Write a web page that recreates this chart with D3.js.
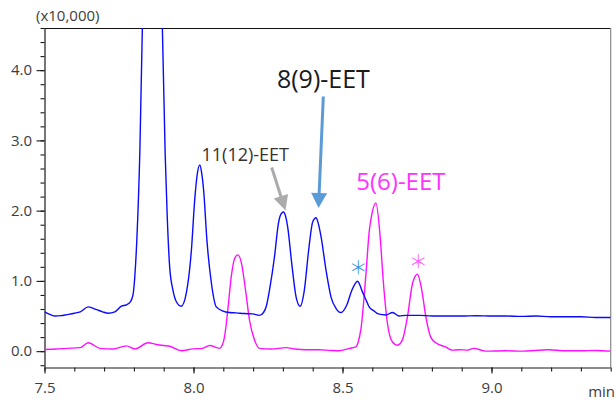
<!DOCTYPE html>
<html>
<head>
<meta charset="utf-8">
<script src="https://cdn.jsdelivr.net/npm/d3@7"></script>
<style>
  html, body { margin: 0; padding: 0; background: #fff; }
  svg { display: block; }
  text { font-family: "Open Sans", "Noto Sans", sans-serif; }
</style>
</head>
<body>
<svg id="chart" width="616" height="400"></svg>
<script>
// ---- data (retention time in min, intensity in x10,000) ----
const blueTime = [7.500,7.520,7.535,7.555,7.575,7.600,7.620,7.647,7.675,7.695,7.714,7.736,7.758,7.775,7.788,7.797,7.803,7.810,7.820,7.830,7.840,7.850,7.862,7.875,7.885,7.895,7.905,7.912,7.920,7.931,7.943,7.959,7.976,7.993,8.004,8.012,8.021,8.028,8.034,8.045,8.060,8.0765,8.099,8.120,8.143,8.170,8.199,8.2215,8.235,8.245,8.255,8.2717,8.285,8.2935,8.302,8.309,8.316,8.3296,8.3443,8.3577,8.372,8.3865,8.400,8.4113,8.418,8.428,8.4448,8.4615,8.478,8.495,8.5137,8.5318,8.5506,8.5673,8.584,8.5897,8.6065,8.620,8.6456,8.668,8.690,8.7126,8.760,8.800,8.850,8.900,8.950,9.000,9.050,9.100,9.150,9.200,9.250,9.300,9.350,9.400];
const blueSignal = [0.56,0.52,0.50,0.505,0.52,0.54,0.56,0.63,0.59,0.56,0.54,0.56,0.64,0.66,0.70,0.80,1.06,1.60,2.85,4.95,7.70,10.2,11.6,10.0,7.40,4.70,2.80,1.90,1.20,0.87,0.70,0.64,0.83,1.44,2.15,2.50,2.65,2.52,2.29,1.58,0.97,0.63,0.57,0.55,0.545,0.535,0.53,0.51,0.55,0.65,0.87,1.34,1.82,1.95,1.98,1.92,1.77,1.25,0.77,0.64,0.87,1.44,1.84,1.90,1.83,1.63,1.15,0.77,0.61,0.55,0.65,0.87,0.996,0.84,0.68,0.63,0.57,0.53,0.515,0.55,0.50,0.51,0.51,0.50,0.50,0.50,0.505,0.50,0.50,0.495,0.50,0.49,0.49,0.49,0.48,0.48];

const magentaTime = [7.500,7.540,7.574,7.619,7.647,7.686,7.730,7.775,7.803,7.8475,7.8756,7.900,7.920,7.959,7.998,8.030,8.054,8.0875,8.096,8.104,8.115,8.1267,8.138,8.149,8.160,8.1746,8.188,8.2047,8.2215,8.260,8.311,8.340,8.378,8.420,8.460,8.489,8.523,8.545,8.552,8.562,8.5787,8.590,8.5985,8.612,8.6256,8.6366,8.651,8.6677,8.6845,8.701,8.718,8.7347,8.7514,8.766,8.7796,8.796,8.813,8.846,8.8686,8.891,8.920,8.9412,8.980,9.050,9.100,9.190,9.250,9.300,9.350,9.400];
const magentaSignal = [0.024,0.03,0.04,0.05,0.12,0.04,0.03,0.075,0.03,0.12,0.095,0.08,0.07,0.005,0.033,0.04,0.08,0.04,0.08,0.20,0.58,1.06,1.32,1.37,1.27,0.87,0.44,0.16,0.04,0.03,0.05,0.03,0.02,0.02,0.01,0.005,0.04,0.06,0.12,0.32,1.10,1.72,1.95,2.11,1.67,1.01,0.39,0.13,0.085,0.16,0.49,0.96,1.095,0.87,0.49,0.20,0.12,0.06,0.014,0.02,0.015,0.04,0.0,0.005,0.0,0.02,0.005,0.005,0.01,0.0];

const xMajorTicks = [7.5, 8.0, 8.5, 9.0];
const yMajorTicks = [0.0, 1.0, 2.0, 3.0, 4.0];
const yUnitLabel = "(x10,000)";
const xUnitLabel = "min";
const peakLabels = ["8(9)-EET", "11(12)-EET", "5(6)-EET"];
const markLabels = ["＊", "＊"];

// ---- layout ----
const svg = d3.select("#chart");
const pLeft = 44.5, pRight = 610.7, pTop = 28, pBottom = 367.5;
const x = d3.scaleLinear().domain([7.5, 9.4]).range([pLeft, pRight]);
const y = d3.scaleLinear().domain([-0.2327, 4.6]).range([pBottom, pTop]);

const tickColor = "#1a1a1a";
const labelColor = "#3d3d3d";

svg.append("defs").append("clipPath").attr("id", "plotClip")
  .append("rect").attr("x", pLeft).attr("y", pTop).attr("width", pRight - pLeft).attr("height", pBottom - pTop);

// frame: top black, right gray
svg.append("line").attr("x1", pLeft).attr("x2", pRight).attr("y1", pTop + 0.5).attr("y2", pTop + 0.5)
  .attr("stroke", "#111").attr("stroke-width", 1.2);
svg.append("line").attr("x1", pRight).attr("x2", pRight).attr("y1", pTop).attr("y2", pBottom)
  .attr("stroke", "#8a8a8a").attr("stroke-width", 1.2);

// minor ticks
const xMinor = d3.range(0, 20).map(i => +(7.5 + i * 0.1).toFixed(1));
const yMinor = d3.range(-1, 24).map(i => +(i * 0.2).toFixed(1));

const gxMinor = svg.append("g").attr("transform", `translate(0,${pBottom})`)
  .call(d3.axisBottom(x).tickValues(xMinor).tickSize(4).tickFormat(""));
const gyMinor = svg.append("g").attr("transform", `translate(${pLeft},0)`)
  .call(d3.axisLeft(y).tickValues(yMinor).tickSize(4).tickFormat(""));

const gx = svg.append("g").attr("transform", `translate(0,${pBottom})`)
  .call(d3.axisBottom(x).tickValues(xMajorTicks).tickSize(6).tickPadding(9).tickFormat(d3.format(".1f")));
const gy = svg.append("g").attr("transform", `translate(${pLeft},0)`)
  .call(d3.axisLeft(y).tickValues(yMajorTicks).tickSize(8).tickPadding(4.5).tickFormat(d3.format(".1f")));

[gxMinor, gyMinor, gx, gy].forEach(g => {
  g.select(".domain").attr("stroke", tickColor).attr("stroke-width", 1.2);
  g.selectAll(".tick line").attr("stroke", tickColor).attr("stroke-width", 1.1);
  g.selectAll(".tick text").attr("fill", labelColor).style("font-size", "15px")
    .style("font-family", "'Open Sans', 'Noto Sans', sans-serif");
});
gyMinor.select(".domain").remove();
gxMinor.select(".domain").remove();
gy.select(".domain").attr("d", `M0.5,${pTop}V${pBottom}`);
gx.select(".domain").attr("d", `M${pLeft},0.5H${pRight}`);

svg.append("text").attr("x", 36).attr("y", 21).attr("fill", labelColor)
  .style("font-size", "15px").text(yUnitLabel);
svg.append("text").attr("x", 615).attr("y", 397).attr("text-anchor", "end").attr("fill", labelColor)
  .style("font-size", "15px").text(xUnitLabel);

// ---- traces ----
const line = d3.line().x(d => x(d[0])).y(d => y(d[1])).curve(d3.curveMonotoneX);
const plot = svg.append("g").attr("clip-path", "url(#plotClip)");
plot.append("path").datum(magentaTime.map((t, i) => [t, magentaSignal[i]]))
  .attr("d", line).attr("fill", "none").attr("stroke", "#ff10ff").attr("stroke-width", 1.4);
plot.append("path").datum(blueTime.map((t, i) => [t, blueSignal[i]]))
  .attr("d", line).attr("fill", "none").attr("stroke", "#0a0aff").attr("stroke-width", 1.4);

// ---- annotations ----
function arrow(t0, v0, t1, v1, color, headLen, headW, shaftW) {
  const x0 = x(t0), y0 = y(v0), x1 = x(t1), y1 = y(v1);
  const dx = x1 - x0, dy = y1 - y0, L = Math.hypot(dx, dy);
  const ux = dx / L, uy = dy / L;
  const bx = x1 - ux * headLen, by = y1 - uy * headLen;
  svg.append("line").attr("x1", x0).attr("y1", y0).attr("x2", bx + ux).attr("y2", by + uy)
    .attr("stroke", color).attr("stroke-width", shaftW);
  svg.append("path")
    .attr("d", `M${x1},${y1}L${bx - uy * headW / 2},${by + ux * headW / 2}L${bx + uy * headW / 2},${by - ux * headW / 2}Z`)
    .attr("fill", color);
}

svg.append("text").attr("x", x(8.280)).attr("y", y(3.745)).attr("fill", "#1a1a1a")
  .style("font-size", "25px").text(peakLabels[0]);
arrow(8.4356, 3.625, 8.4195, 2.038, "#5b9bd5", 15, 16, 3);

svg.append("text").attr("x", x(8.0268)).attr("y", y(2.70)).attr("fill", "#333")
  .style("font-size", "18px").text(peakLabels[1]);
arrow(8.2624, 2.614, 8.3087, 2.002, "#ababab", 15, 15, 3);

svg.append("text").attr("x", x(8.5463)).attr("y", y(2.287)).attr("fill", "#ff33ff")
  .style("font-size", "24px").text(peakLabels[2]);

// asterisk marks above the two starred peaks
const starSize = 19;
svg.append("text").attr("x", x(8.553)).attr("y", y(1.202)).attr("fill", "#3d95dd")
  .attr("text-anchor", "middle").attr("dominant-baseline", "central")
  .style("font-family", "'Noto Sans CJK JP', sans-serif").style("font-weight", 300)
  .style("font-size", starSize + "px").text(markLabels[0]);
svg.append("text").attr("x", x(8.7544)).attr("y", y(1.297)).attr("fill", "#ff55ff")
  .attr("text-anchor", "middle").attr("dominant-baseline", "central")
  .style("font-family", "'Noto Sans CJK JP', sans-serif").style("font-weight", 300)
  .style("font-size", starSize + "px").text(markLabels[1]);
</script>
</body>
</html>
